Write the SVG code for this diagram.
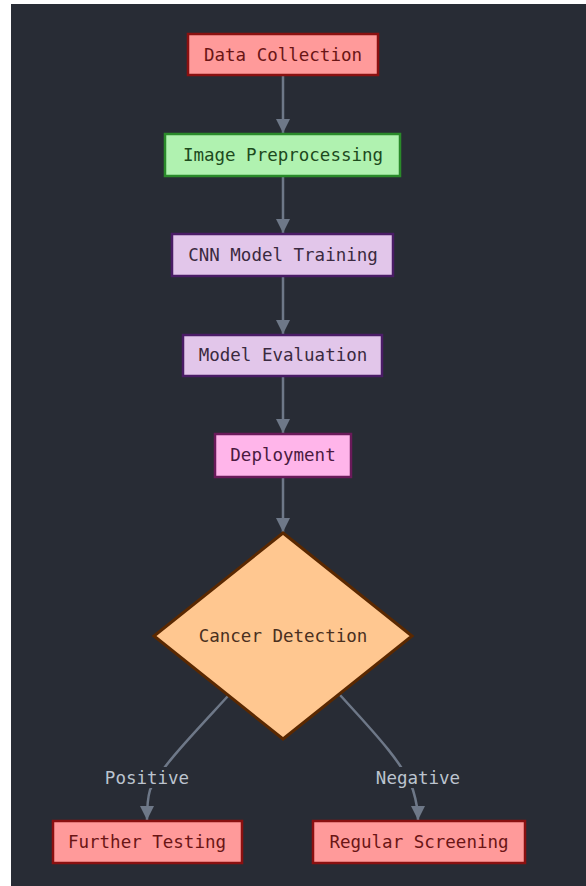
<svg xmlns="http://www.w3.org/2000/svg" width="586" height="886" viewBox="0 0 586 886">
<defs>
<style>
.lbl{font-family:"DejaVu Sans Mono","Liberation Mono",monospace;font-size:17.5px;text-anchor:middle;dominant-baseline:central}
.edge{fill:none;stroke:#6e7888;stroke-width:2.5}
.elbl{fill:#bcc4cf}
.red rect{fill:#ff9a9a;stroke:#8a1010;stroke-width:2.5}
.red text{fill:#6a1515}
.green rect{fill:#b0f2b0;stroke:#2a8a2a;stroke-width:2.5}
.green text{fill:#1d4a1d}
.purple rect{fill:#e2c6ea;stroke:#4a1c66;stroke-width:2.5}
.purple text{fill:#3a2a40}
.pink rect{fill:#ffb5ea;stroke:#6a1a5a;stroke-width:2.5}
.pink text{fill:#4a1a40}
.orange polygon{fill:#ffc790;stroke:#5a2800;stroke-width:3}
.orange text{fill:#4a3020}
</style>
<marker id="arr" viewBox="0 0 14 14" refX="14" refY="7" markerWidth="14" markerHeight="14" markerUnits="userSpaceOnUse" orient="auto">
<path d="M0,0 L14,7 L0,14 z" fill="#6e7888"/>
</marker>
</defs>
<rect x="0" y="0" width="586" height="886" fill="#ffffff"/>
<rect x="11" y="4" width="575" height="882" fill="#282c35"/>
<g id="connectors">
<path class="edge" d="M283,76 L283,133" marker-end="url(#arr)"/>
<path class="edge" d="M283,177 L283,233" marker-end="url(#arr)"/>
<path class="edge" d="M283,277 L283,334" marker-end="url(#arr)"/>
<path class="edge" d="M283,377 L283,433" marker-end="url(#arr)"/>
<path class="edge" d="M283,478 L283,532" marker-end="url(#arr)"/>
<path class="edge" d="M228,696 C195,732 160,768 150,790 C147,800 147,810 147,820" marker-end="url(#arr)"/>
<path class="edge" d="M340,695 C372,730 405,765 413,790 C416,800 418,810 418,820" marker-end="url(#arr)"/>
<rect x="100" y="767" width="94" height="21" fill="#282c35"/>
<text class="lbl elbl" x="147" y="778">Positive</text>
<rect x="370" y="767" width="96" height="21" fill="#282c35"/>
<text class="lbl elbl" x="418" y="778">Negative</text>
</g>
<g id="data-collection" class="red">
<rect x="188" y="34" width="190" height="41"/>
<text class="lbl" x="283" y="55">Data Collection</text>
</g>
<g id="image-preprocessing" class="green">
<rect x="165" y="134" width="235" height="42"/>
<text class="lbl" x="283" y="155">Image Preprocessing</text>
</g>
<g id="cnn-model-training" class="purple">
<rect x="172" y="234" width="221" height="42"/>
<text class="lbl" x="283" y="255">CNN Model Training</text>
</g>
<g id="model-evaluation" class="purple">
<rect x="183" y="335" width="199" height="41"/>
<text class="lbl" x="283" y="355">Model Evaluation</text>
</g>
<g id="deployment" class="pink">
<rect x="215" y="434" width="136" height="43"/>
<text class="lbl" x="283" y="455">Deployment</text>
</g>
<g id="cancer-detection" class="orange">
<polygon points="283,533 412,636 283,739 154,636"/>
<text class="lbl" x="283" y="636">Cancer Detection</text>
</g>
<g id="further-testing" class="red">
<rect x="53" y="821" width="189" height="42"/>
<text class="lbl" x="147" y="842">Further Testing</text>
</g>
<g id="regular-screening" class="red">
<rect x="313" y="821" width="212" height="42"/>
<text class="lbl" x="419" y="842">Regular Screening</text>
</g>
</svg>
